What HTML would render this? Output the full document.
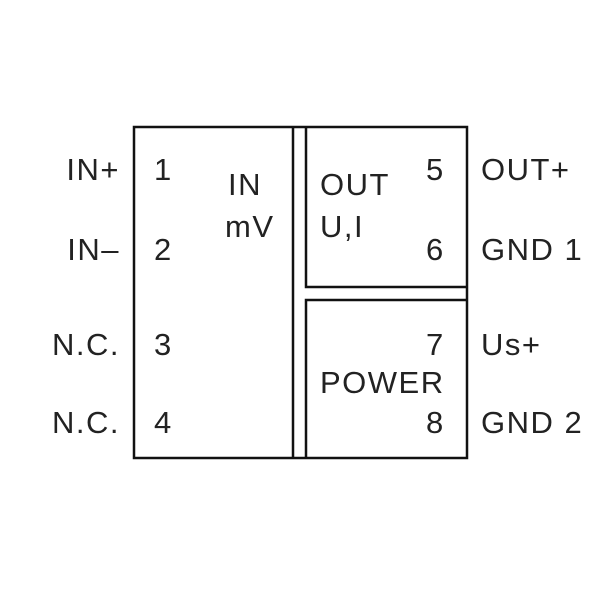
<!DOCTYPE html>
<html><head><style>
body{margin:0;background:#fff}
svg text{font-family:"Liberation Sans",sans-serif;font-size:31px;fill:#222;letter-spacing:1.5px}
</style></head><body>
<svg width="600" height="600" xmlns="http://www.w3.org/2000/svg">
<g fill="none" stroke="#111" stroke-width="2.5">
<rect x="134" y="127" width="333" height="331"/>
<line x1="293" y1="127" x2="293" y2="458"/>
<polyline points="306,127 306,287 467,287"/>
<polyline points="306,458 306,300 467,300"/>
</g>
<g text-anchor="end">
<text x="120" y="180">IN+</text>
<text x="120" y="260">IN–</text>
<text x="120" y="355">N.C.</text>
<text x="120" y="433">N.C.</text>
</g>
<text x="154" y="180">1</text>
<text x="154" y="260">2</text>
<text x="154" y="355">3</text>
<text x="154" y="433">4</text>
<text x="228" y="195">IN</text>
<text x="225" y="237">mV</text>
<text x="320" y="195">OUT</text>
<text x="320" y="237">U,I</text>
<text x="426" y="180">5</text>
<text x="426" y="260">6</text>
<text x="426" y="355">7</text>
<text x="320" y="393">POWER</text>
<text x="426" y="433">8</text>
<text x="481" y="180">OUT+</text>
<text x="481" y="260">GND 1</text>
<text x="481" y="355">Us+</text>
<text x="481" y="433">GND 2</text>
</svg>
</body></html>
